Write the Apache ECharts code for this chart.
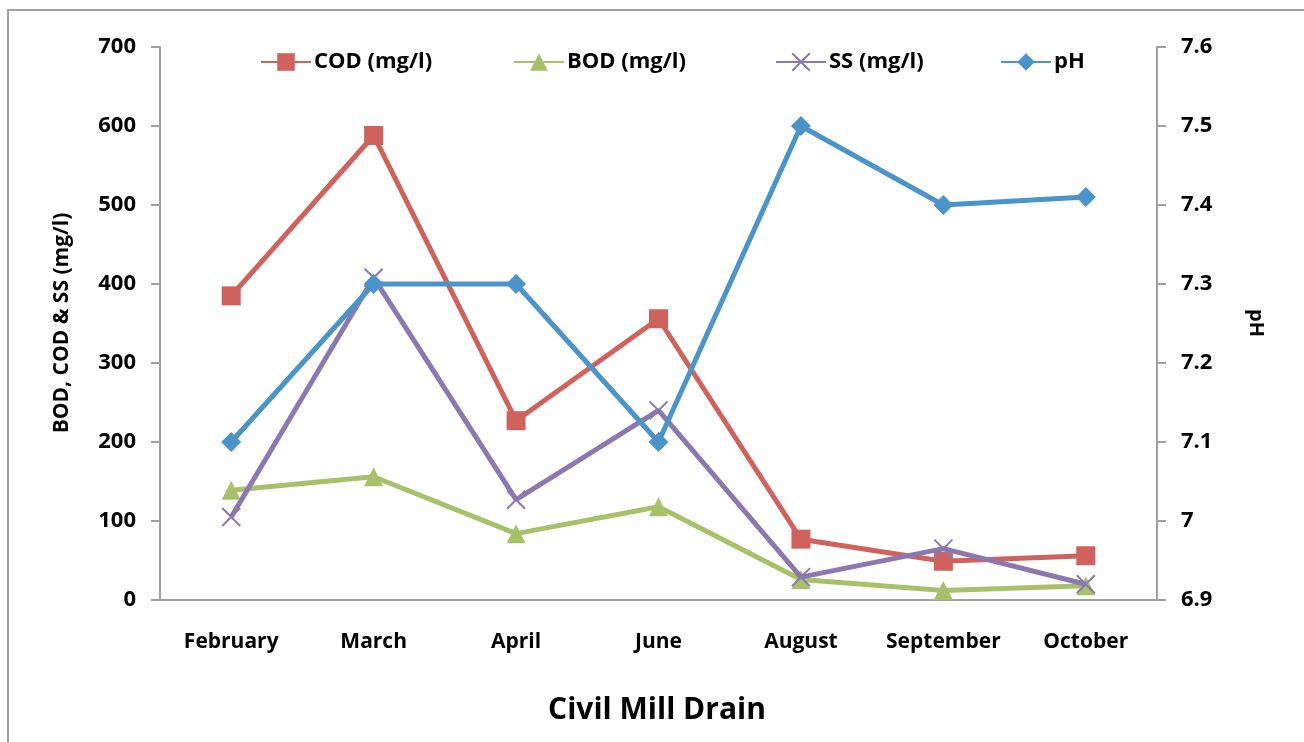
<!DOCTYPE html>
<html>
<head>
<meta charset="utf-8">
<script src="https://cdn.jsdelivr.net/npm/echarts@6/dist/echarts.min.js"></script>
<style>
html,body{margin:0;padding:0;background:#fff;}
#chart{width:1304px;height:742px;}
</style>
</head>
<body>
<div id="chart"></div>
<script>
const categories = ['February', 'March', 'April', 'June', 'August', 'September', 'October'];
const codValues = [385, 588, 227, 356, 77, 49, 56];
const bodValues = [139, 156, 84, 118, 26, 12, 18];
const ssValues = [105, 408, 127, 240, 29, 65, 20];
const phValues = [7.1, 7.3, 7.3, 7.1, 7.5, 7.4, 7.41];
const leftTicks = {min: 0, max: 700, interval: 100};
const rightTicks = {min: 6.9, max: 7.6, interval: 0.1};

const FONT = '"Open Sans"';
const crossPath = 'path://M0,0L10,10M10,0L0,10';

const chart = echarts.init(document.getElementById('chart'), null, {renderer: 'canvas'});

function legendAt(name, left) {
  return {
    data: [name],
    left: left,
    top: 46,
    itemWidth: 50,
    itemHeight: 22,
    itemGap: 0,
    textStyle: {fontFamily: FONT, fontWeight: 'bold', fontSize: 22, color: '#000', padding: [0, 0, 0, -2]}
  };
}

const option = {
  animation: false,
  backgroundColor: '#fff',
  graphic: [
    {type: 'rect', shape: {x: 8, y: 10, width: 1320, height: 800}, style: {fill: 'none', stroke: '#a0a0a0', lineWidth: 2}, silent: true, z: -1},
    {type: 'text', x: 62, y: 323, rotation: Math.PI / 2,
      style: {text: 'BOD, COD & SS (mg/l)', font: 'bold 21px ' + FONT, fill: '#000', textAlign: 'center', textVerticalAlign: 'middle'}},
    {type: 'text', x: 1256, y: 323, rotation: -Math.PI / 2,
      style: {text: 'pH', font: 'bold 20px ' + FONT, fill: '#000', textAlign: 'center', textVerticalAlign: 'middle'}},
    {type: 'text', x: 657, y: 710,
      style: {text: 'Civil Mill Drain', font: 'bold 30px ' + FONT, fill: '#000', textAlign: 'center', textVerticalAlign: 'middle'}}
  ],
  legend: [
    legendAt('COD (mg/l)', 255),
    legendAt('BOD (mg/l)', 508),
    legendAt('SS (mg/l)', 770),
    legendAt('pH', 995)
  ],
  grid: {left: 160, right: 147, top: 47, bottom: 142, containLabel: false},
  xAxis: {
    type: 'category',
    data: categories,
    boundaryGap: true,
    axisLine: {lineStyle: {color: '#a0a0a0', width: 2}},
    axisTick: {show: false},
    axisLabel: {interval: 0, hideOverlap: false, fontFamily: FONT, fontWeight: 'bold', fontSize: 21, color: '#000', margin: 32}
  },
  yAxis: [
    {
      type: 'value', min: leftTicks.min, max: leftTicks.max, interval: leftTicks.interval,
      axisLine: {show: true, lineStyle: {color: '#a0a0a0', width: 2}},
      axisTick: {show: true, length: 9, lineStyle: {color: '#a0a0a0', width: 2}},
      splitLine: {show: false},
      axisLabel: {fontFamily: FONT, fontWeight: 'bold', fontSize: 22, color: '#000', margin: 24}
    },
    {
      type: 'value', min: rightTicks.min, max: rightTicks.max, interval: rightTicks.interval,
      position: 'right',
      axisLine: {show: true, lineStyle: {color: '#a0a0a0', width: 2}},
      axisTick: {show: true, length: 9, lineStyle: {color: '#a0a0a0', width: 2}},
      splitLine: {show: false},
      axisLabel: {fontFamily: FONT, fontWeight: 'bold', fontSize: 22, color: '#000', margin: 24,
        formatter: v => String(+(+v).toFixed(1))}
    }
  ],
  series: [
    {
      name: 'COD (mg/l)', type: 'line', data: codValues, yAxisIndex: 0,
      symbol: 'rect', symbolSize: 19, z: 2,
      lineStyle: {color: '#D0625E', width: 5},
      itemStyle: {color: '#D0625E'}
    },
    {
      name: 'BOD (mg/l)', type: 'line', data: bodValues, yAxisIndex: 0,
      symbol: 'triangle', symbolSize: 19, z: 3,
      lineStyle: {color: '#A9C06A', width: 5},
      itemStyle: {color: '#A9C06A'}
    },
    {
      name: 'SS (mg/l)', type: 'line', data: ssValues, yAxisIndex: 0,
      symbol: crossPath, symbolSize: 18, z: 4,
      lineStyle: {color: '#8C78B0', width: 5},
      itemStyle: {color: 'rgba(0,0,0,0)', borderColor: '#8C78B0', borderWidth: 2}
    },
    {
      name: 'pH', type: 'line', data: phValues, yAxisIndex: 1,
      symbol: 'diamond', symbolSize: [20, 20], z: 5,
      lineStyle: {color: '#4A94CA', width: 5},
      itemStyle: {color: '#4A94CA'}
    }
  ]
};
chart.setOption(option);
</script>
</body>
</html>
